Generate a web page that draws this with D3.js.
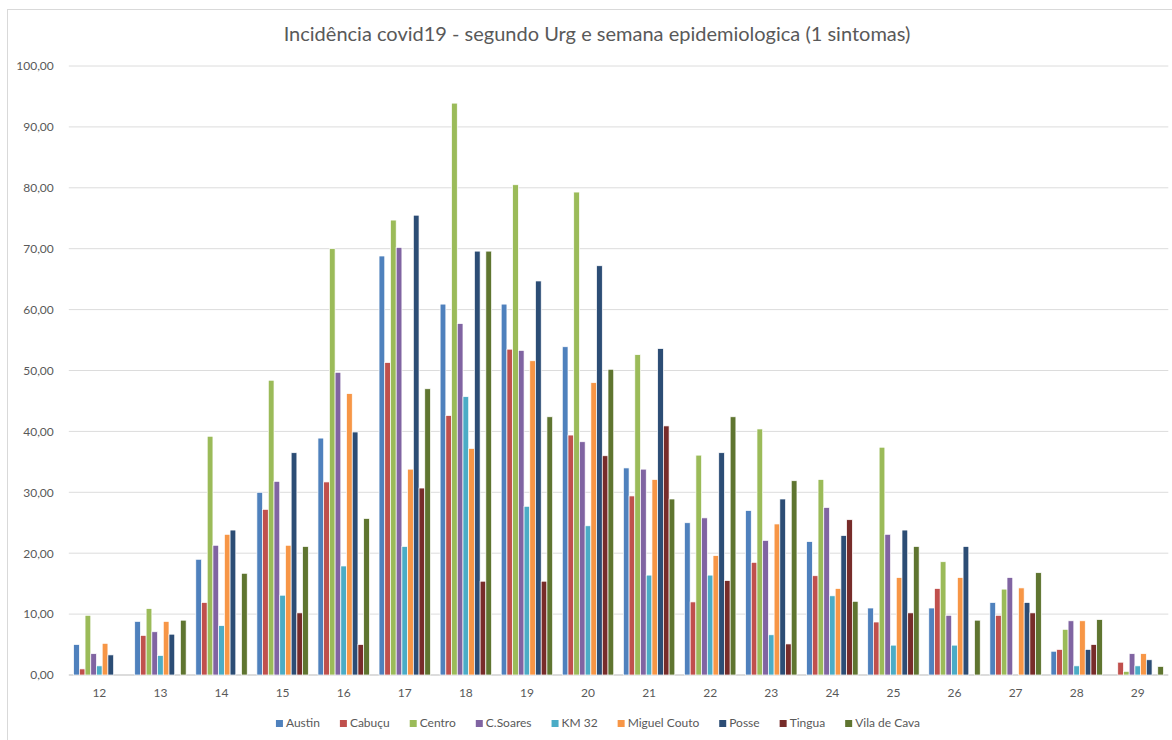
<!DOCTYPE html>
<html lang="pt">
<head>
    <meta charset="UTF-8">
    <title>Incidência covid19 - segundo Urg e semana epidemiologica</title>
    <script src="https://d3js.org/d3.v7.min.js"></script>
    <style>
        body { margin: 0; background: #fff; }
        text { font-family: Lato, "Open Sans", sans-serif; fill: #595959; }
    </style>
</head>
<body>
    <div id="chart"></div>
    <script>
        // semanas epidemiologicas (eixo x)
        const weeks = ["12", "13", "14", "15", "16", "17", "18", "19", "20", "21", "22", "23", "24", "25", "26", "27", "28", "29"];
        const units = ["Austin", "Cabuçu", "Centro", "C.Soares", "KM 32", "Miguel Couto", "Posse", "Tingua", "Vila de Cava"];
        const colors = ["#4F81BD", "#C0504D", "#9BBB59", "#8064A2", "#4BACC6", "#F79646", "#2C4D75", "#772C2A", "#5F7530"];

        // incidencia por unidade, uma entrada por semana
        const austin     = [5.0, 8.8, 19.0, 30.0, 38.9, 68.8, 60.9, 60.9, 53.9, 34.0, 25.0, 27.0, 21.9, 11.0, 11.0, 11.9, 3.9, 0];
        const cabucu     = [1.0, 6.5, 11.9, 27.2, 31.7, 51.3, 42.6, 53.5, 39.4, 29.4, 12.0, 18.5, 16.3, 8.7, 14.2, 9.8, 4.2, 2.1];
        const centro     = [9.8, 10.9, 39.2, 48.4, 70.0, 74.7, 93.9, 80.5, 79.3, 52.6, 36.1, 40.4, 32.1, 37.4, 18.6, 14.1, 7.5, 0.6];
        const cSoares    = [3.5, 7.1, 21.3, 31.8, 49.7, 70.2, 57.7, 53.3, 38.3, 33.8, 25.8, 22.1, 27.5, 23.1, 9.8, 16.0, 8.9, 3.5];
        const km32       = [1.5, 3.2, 8.1, 13.1, 17.9, 21.1, 45.7, 27.7, 24.5, 16.4, 16.4, 6.6, 13.0, 4.9, 4.9, 0, 1.5, 1.5];
        const miguelCouto = [5.2, 8.8, 23.1, 21.3, 46.2, 33.8, 37.2, 51.6, 48.0, 32.1, 19.6, 24.8, 14.2, 16.0, 16.0, 14.3, 8.9, 3.5];
        const posse      = [3.3, 6.7, 23.8, 36.5, 39.9, 75.5, 69.6, 64.7, 67.2, 53.6, 36.5, 28.9, 22.9, 23.8, 21.1, 11.9, 4.2, 2.5];
        const tingua     = [0, 0, 0, 10.2, 5.0, 30.7, 15.4, 15.4, 36.0, 40.9, 15.5, 5.1, 25.5, 10.2, 0, 10.2, 5.0, 0];
        const vilaDeCava = [0, 9.0, 16.7, 21.1, 25.7, 47.0, 69.6, 42.4, 50.2, 28.9, 42.4, 31.9, 12.1, 21.1, 9.0, 16.8, 9.1, 1.4];

        const yTicks = [0, 10, 20, 30, 40, 50, 60, 70, 80, 90, 100];

        const series = [austin, cabucu, centro, cSoares, km32, miguelCouto, posse, tingua, vilaDeCava];

        const width = 1172, height = 740;
        const plot = { left: 68.8, right: 1168.3, top: 66, bottom: 675 };

        const svg = d3.select("#chart").append("svg")
            .attr("width", width)
            .attr("height", height);

        // moldura do grafico
        svg.append("rect")
            .attr("x", 7.5).attr("y", 9.5)
            .attr("width", width + 10).attr("height", height + 10)
            .attr("fill", "none")
            .attr("stroke", "#d9d9d9");

        // titulo
        svg.append("text")
            .attr("x", 597)
            .attr("y", 41)
            .attr("text-anchor", "middle")
            .attr("font-size", "20px")
            .text("Incidência covid19 - segundo Urg e semana epidemiologica (1 sintomas)");

        const x0 = d3.scaleBand()
            .domain(weeks)
            .range([plot.left, plot.right])
            .paddingInner(0.158)
            .paddingOuter(0.079);

        const x1 = d3.scaleBand()
            .domain(units)
            .range([0, x0.bandwidth()]);

        const y = d3.scaleLinear()
            .domain([0, 100])
            .range([plot.bottom, plot.top]);

        // grade horizontal
        svg.append("g")
            .selectAll("line")
            .data(yTicks)
            .join("line")
            .attr("x1", plot.left)
            .attr("x2", plot.right)
            .attr("y1", d => y(d))
            .attr("y2", d => y(d))
            .attr("stroke", d => d === 0 ? "#d0d0d0" : "#dcdcdc")
            .attr("stroke-width", d => d === 0 ? 1.4 : 1);

        // eixo y (rotulos com virgula)
        const yAxis = svg.append("g")
            .attr("transform", `translate(${plot.left - 12},0)`)
            .call(d3.axisLeft(y).tickValues(yTicks).tickSize(0)
                .tickFormat(d => d3.format(".2f")(d).replace(".", ",")));
        yAxis.select(".domain").remove();
        yAxis.selectAll("text").attr("font-size", "12px").attr("fill", "#595959")
            .style("font-family", "Lato, sans-serif");

        // eixo x
        const xAxis = svg.append("g")
            .attr("transform", `translate(0,${plot.bottom + 8})`)
            .call(d3.axisBottom(x0).tickSize(0));
        xAxis.select(".domain").remove();
        xAxis.selectAll("text").attr("font-size", "12px").attr("fill", "#595959")
            .attr("dy", "0.9em")
            .style("font-family", "Lato, sans-serif");

        // barras
        const groups = svg.append("g")
            .selectAll("g")
            .data(weeks)
            .join("g")
            .attr("transform", d => `translate(${x0(d)},0)`);

        groups.selectAll("rect")
            .data((w, i) => units.map((u, k) => ({ unit: u, value: series[k][i], color: colors[k] })))
            .join("rect")
            .filter(d => d.value > 0)
            .attr("x", d => x1(d.unit))
            .attr("y", d => y(d.value))
            .attr("width", x1.bandwidth())
            .attr("height", d => y(0) - y(d.value))
            .attr("fill", d => d.color)
            .attr("stroke", "#fff")
            .attr("stroke-width", 0.7);

        // legenda
        const legend = svg.append("g");
        let lx = 0;
        units.forEach((u, k) => {
            const item = legend.append("g").attr("transform", `translate(${lx},0)`);
            item.append("rect")
                .attr("x", 0).attr("y", -7)
                .attr("width", 7).attr("height", 7)
                .attr("fill", colors[k]);
            const t = item.append("text")
                .attr("x", 10).attr("y", 0)
                .attr("font-size", "12px")
                .text(u);
            lx += 10 + t.node().getComputedTextLength() + 20;
        });
        const legendWidth = lx - 20;
        legend.attr("transform", `translate(${598 - legendWidth / 2},727)`);
    </script>
</body>
</html>
